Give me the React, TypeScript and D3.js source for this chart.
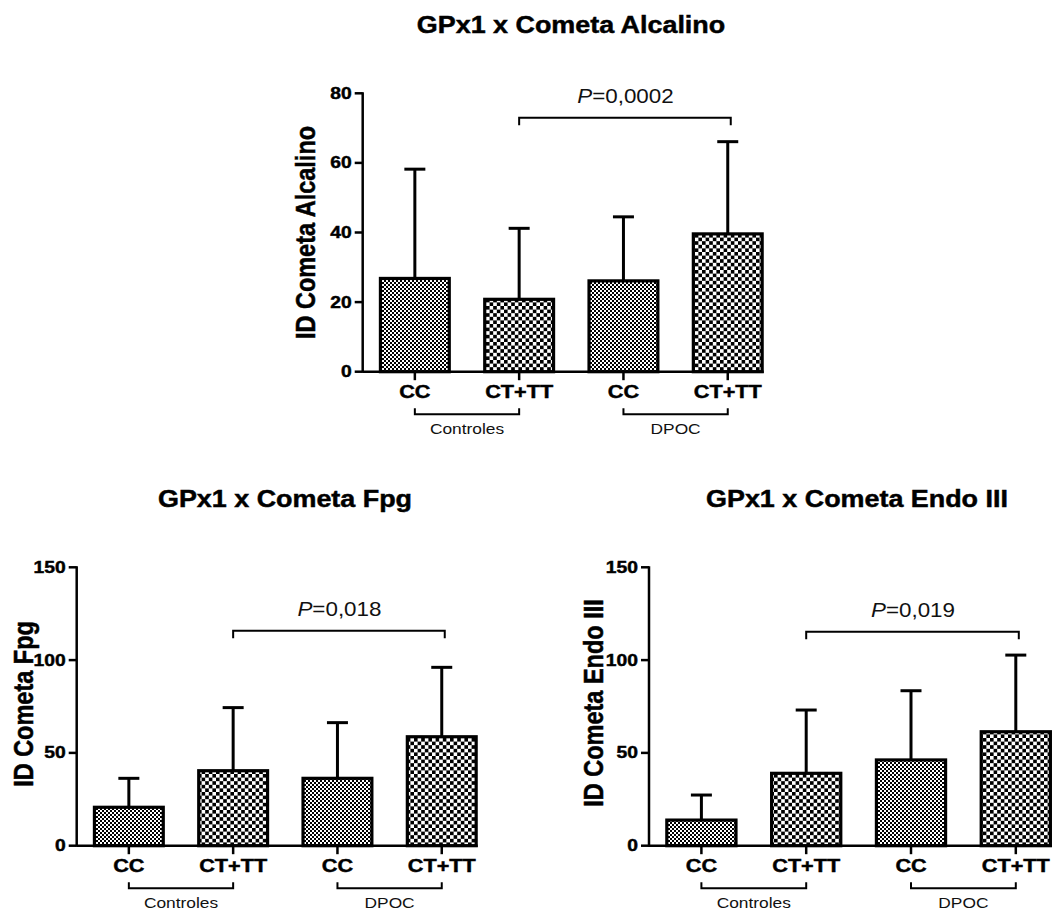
import React from 'react';
import * as d3 from 'd3';

// genotypes along the x axis, and the two subject groups
const genotypes = ['CC', 'CT+TT', 'CC', 'CT+TT'];
const groups = ['Controles', 'DPOC'];

// mean and mean+SD
const alcalinoMean = [26.8, 20.8, 26.1, 39.6];
const alcalinoUpper = [58.2, 41.2, 44.5, 66.1];
const fpgMean = [20.7, 40.4, 36.3, 58.7];
const fpgUpper = [36.3, 74.4, 66.3, 96.1];
const endoMean = [13.8, 39.0, 46.2, 61.4];
const endoUpper = [27.3, 73.1, 83.5, 102.7];

const titles = ['GPx1 x Cometa Alcalino', 'GPx1 x Cometa Fpg', 'GPx1 x Cometa Endo III'];
const yLabels = ['ID Cometa Alcalino', 'ID Cometa Fpg', 'ID Cometa Endo III'];
const pValues = ['=0,0002', '=0,018', '=0,019'];
const sigLevels = [73, 115.8, 115.3];
const yMaxes = [80, 150, 150];
const tickCounts = [4, 3, 3];

const FONT = "'Liberation Sans', Arial, sans-serif";
const SX = 1.17; // the picture is stretched sideways

const panels = [
  { x0: 362.7, step: 104.3, yTop: 93.3, yBot: 371.7, titleX: 571, titleY: 32.5, labelX: 315, labelY: 232.5 },
  { x0: 76.7, step: 104.3, yTop: 567.3, yBot: 845.7, titleX: 285, titleY: 506.5, labelX: 33.3, labelY: 704 },
  { x0: 649, step: 104.8, yTop: 567.3, yBot: 845.7, titleX: 857, titleY: 506.5, labelX: 603.3, labelY: 703 },
];

// bold text in the picture is a bit heavier than the plain bold face
const heavy = { fontFamily: FONT, fontWeight: 'bold' as const, stroke: '#000', strokeWidth: 0.45 };

function Panel({ idx, mean, upper }: { idx: number; mean: number[]; upper: number[] }) {
  const p = panels[idx];
  const keys = genotypes.map((g, i) => `${i}`);
  const x = d3.scaleBand().domain(keys).range([p.x0, p.x0 + 4 * p.step]).paddingInner(0.34).paddingOuter(0.17);
  const y = d3.scaleLinear().domain([0, yMaxes[idx]]).range([p.yBot, p.yTop]);
  const bw = x.bandwidth();
  const cx = (i: number) => (x(`${i}`) as number) + bw / 2;
  const xEnd = (x('3') as number) + bw + 1.5;
  const sy = y(sigLevels[idx]);
  return (
    <g>
      <text transform={`translate(${p.titleX},${p.titleY}) scale(${SX},1)`} textAnchor="middle"
        {...heavy} fontSize={23}>{titles[idx]}</text>
      <text transform={`translate(${p.labelX},${p.labelY}) rotate(-90) scale(1,${SX})`} textAnchor="middle"
        {...heavy} fontSize={23.5}>{yLabels[idx]}</text>

      {/* bars with error bars */}
      {mean.map((m, i) => (
        <g key={i}>
          <line x1={cx(i)} x2={cx(i)} y1={y(m)} y2={y(upper[i])} stroke="#000" strokeWidth={3} />
          <line x1={cx(i) - 10.5} x2={cx(i) + 10.5} y1={y(upper[i])} y2={y(upper[i])} stroke="#000" strokeWidth={3} />
          <rect x={x(`${i}`)} y={y(m)} width={bw} height={y(0) - y(m)}
            fill={i % 2 === 0 ? 'url(#fine)' : 'url(#coarse)'} stroke="#000" strokeWidth={3.2} />
        </g>
      ))}

      {/* y axis */}
      <line x1={p.x0} x2={p.x0} y1={y(0) + 1} y2={y(yMaxes[idx]) - 1} stroke="#000" strokeWidth={2.5} />
      {y.ticks(tickCounts[idx]).map(t => (
        <g key={t}>
          <line x1={p.x0 - 8} x2={p.x0} y1={y(t)} y2={y(t)} stroke="#000" strokeWidth={2.5} />
          <text transform={`translate(${p.x0 - 11},${y(t)}) scale(${SX},1)`} textAnchor="end" dominantBaseline="central"
            {...heavy} fontSize={16.5}>{t}</text>
        </g>
      ))}

      {/* x axis */}
      <line x1={p.x0} x2={xEnd} y1={y(0)} y2={y(0)} stroke="#000" strokeWidth={2.5} />
      {genotypes.map((g, i) => (
        <g key={i}>
          <line x1={cx(i)} x2={cx(i)} y1={y(0)} y2={y(0) + 8.5} stroke="#000" strokeWidth={2.5} />
          <text transform={`translate(${cx(i)},${y(0) + 26.6}) scale(${SX},1)`} textAnchor="middle"
            {...heavy} fontSize={18.5}>{g}</text>
        </g>
      ))}

      {/* group brackets */}
      {groups.map((gr, k) => {
        const a = cx(2 * k), b = cx(2 * k + 1);
        const by = y(0) + 42.5;
        return (
          <g key={gr}>
            <path d={`M${a},${by - 6} V${by} H${b} V${by - 6}`} fill="none" stroke="#000" strokeWidth={2} />
            <text transform={`translate(${(a + b) / 2},${y(0) + 61.8}) scale(1.12,1)`} textAnchor="middle"
              fontFamily={FONT} fontSize={15.5} fill="#111">{gr}</text>
          </g>
        );
      })}

      {/* significance bracket */}
      <path d={`M${cx(1)},${sy + 7.5} V${sy} H${cx(3) + 3} V${sy + 7.5}`} fill="none" stroke="#000" strokeWidth={2} />
      <text transform={`translate(${(cx(1) + cx(3)) / 2 + 2},${sy - 14.5}) scale(1.12,1)`} textAnchor="middle"
        fontFamily={FONT} fontSize={20} fill="#111">
        <tspan fontStyle="italic">P</tspan>{pValues[idx]}
      </text>
    </g>
  );
}

export default function App() {
  return (
    <svg width={1056} height={916} style={{ position: 'absolute', left: 0, top: 0, background: '#fff' }}>
      <defs>
        <pattern id="fine" patternUnits="userSpaceOnUse" width={4} height={4}>
          <rect width={4} height={4} fill="#fff" />
          <rect width={2} height={2} fill="#000" />
          <rect x={2} y={2} width={2} height={2} fill="#000" />
        </pattern>
        <pattern id="coarse" patternUnits="userSpaceOnUse" width={7.2} height={7.2}>
          <rect width={7.2} height={7.2} fill="#fff" />
          <rect width={3.6} height={3.6} fill="#000" />
          <rect x={3.6} y={3.6} width={3.6} height={3.6} fill="#000" />
        </pattern>
      </defs>
      <rect width={1056} height={916} fill="#fff" />
      <Panel idx={0} mean={alcalinoMean} upper={alcalinoUpper} />
      <Panel idx={1} mean={fpgMean} upper={fpgUpper} />
      <Panel idx={2} mean={endoMean} upper={endoUpper} />
    </svg>
  );
}
